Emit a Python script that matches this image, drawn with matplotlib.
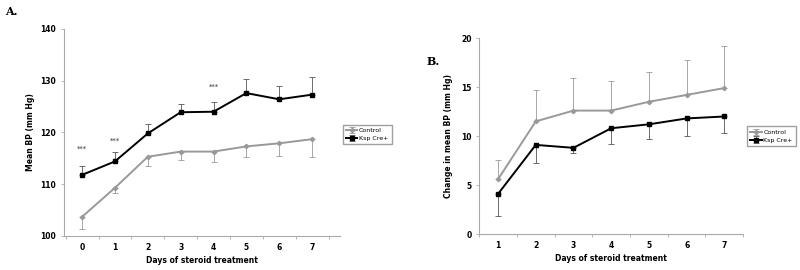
import numpy as np
import matplotlib.pyplot as plt

# panel A - mean BP
days_a = [0, 1, 2, 3, 4, 5, 6, 7]
ctrl_a = [103.7, 109.3, 115.3, 116.3, 116.3, 117.3, 117.9, 118.7]
ctrl_a_err = [2.3, 1.0, 1.7, 1.6, 2.1, 2.0, 2.4, 3.4]
ksp_a = [111.8, 114.4, 119.8, 123.9, 124.0, 127.6, 126.4, 127.3]
ksp_a_err = [1.8, 1.8, 1.9, 1.6, 1.8, 2.8, 2.6, 3.5]
sig_days = [0, 1, 4]
sig_y = [116.9, 118.4, 128.8]

# panel B - change in mean BP
days_b = [1, 2, 3, 4, 5, 6, 7]
ctrl_b = [5.6, 11.5, 12.6, 12.6, 13.5, 14.2, 14.9]
ctrl_b_err = [2.0, 3.2, 3.3, 3.0, 3.0, 3.6, 4.3]
ksp_b = [4.1, 9.1, 8.8, 10.8, 11.2, 11.8, 12.0]
ksp_b_err = [2.3, 1.8, 0.5, 1.6, 1.5, 1.8, 1.7]

grey = '#999999'
plt.rcParams['font.family'] = 'DejaVu Sans'

fig = plt.figure(figsize=(8, 2.7), dpi=100)
axA = fig.add_axes([0.08, 0.126, 0.345, 0.767])
axB = fig.add_axes([0.599, 0.133, 0.33, 0.726])


def style(ax):
    for s in ['top', 'right']:
        ax.spines[s].set_visible(False)
    for s in ['left', 'bottom']:
        ax.spines[s].set_color('#aaaaaa')
        ax.spines[s].set_linewidth(0.8)
    ax.tick_params(axis='both', labelsize=5.5, colors='#aaaaaa', labelcolor='black',
                   length=2, width=0.6)
    ax.tick_params(axis='x', length=0, pad=5)
    for lab in ax.get_xticklabels() + ax.get_yticklabels():
        lab.set_fontweight('bold')
    ax.set_xlabel('Days of steroid treatment', fontsize=5.5, fontweight='bold', labelpad=3)


def draw(ax, x, c, ce, k, ke, ctrl_down):
    zc = [0] * len(ce)
    zk = [0] * len(ke)
    cerr = [ce, zc] if ctrl_down else [zc, ce]
    kerr = [zk, ke] if ctrl_down else [ke, zk]
    ax.errorbar(x, c, yerr=cerr, color=grey, lw=1.4, marker='D',
                ms=2.2, elinewidth=0.6, capsize=2, capthick=0.6, label='Control')
    ax.errorbar(x, k, yerr=kerr, color='black', lw=1.4, marker='s',
                ms=2.2, elinewidth=0.6, ecolor='#555555', capsize=2, capthick=0.6,
                label='Ksp Cre+')


def legend(ax, anchor):
    ax.legend(loc='center left', bbox_to_anchor=anchor, fontsize=4.5, frameon=True,
              fancybox=False, edgecolor='#888888', handlelength=1.8, borderpad=0.5,
              labelspacing=0.4, handletextpad=0.3, borderaxespad=0)


draw(axA, days_a, ctrl_a, ctrl_a_err, ksp_a, ksp_a_err, True)
axA.set_xlim(-0.55, 7.85)
axA.set_ylim(100, 140)
axA.set_xticks(days_a)
axA.set_yticks([100, 110, 120, 130, 140])
axA.set_xticks(np.arange(-0.5, 8, 1), minor=True)
axA.tick_params(axis='x', which='minor', length=2, color='#aaaaaa')
axA.set_ylabel('Mean BP (mm Hg)', fontsize=5.5, fontweight='bold', labelpad=4)
style(axA)
for d, y in zip(sig_days, sig_y):
    axA.text(d, y, '***', ha='center', va='center', fontsize=5, color='#333333')
legend(axA, (1.01, 0.49))

draw(axB, days_b, ctrl_b, ctrl_b_err, ksp_b, ksp_b_err, False)
axB.set_xlim(0.5, 7.5)
axB.set_ylim(0, 20)
axB.set_xticks(days_b)
axB.set_yticks([0, 5, 10, 15, 20])
axB.set_xticks(np.arange(0.5, 8, 1), minor=True)
axB.tick_params(axis='x', which='minor', length=2, color='#aaaaaa')
axB.set_ylabel('Change in mean BP (mm Hg)', fontsize=5.5, fontweight='bold', labelpad=6)
style(axB)
legend(axB, (1.015, 0.5))

fig.text(0.006, 0.945, 'A.', fontsize=8, fontweight='bold', family='DejaVu Serif')
fig.text(0.533, 0.76, 'B.', fontsize=8, fontweight='bold', family='DejaVu Serif')

fig.savefig('out.png', dpi=100)
